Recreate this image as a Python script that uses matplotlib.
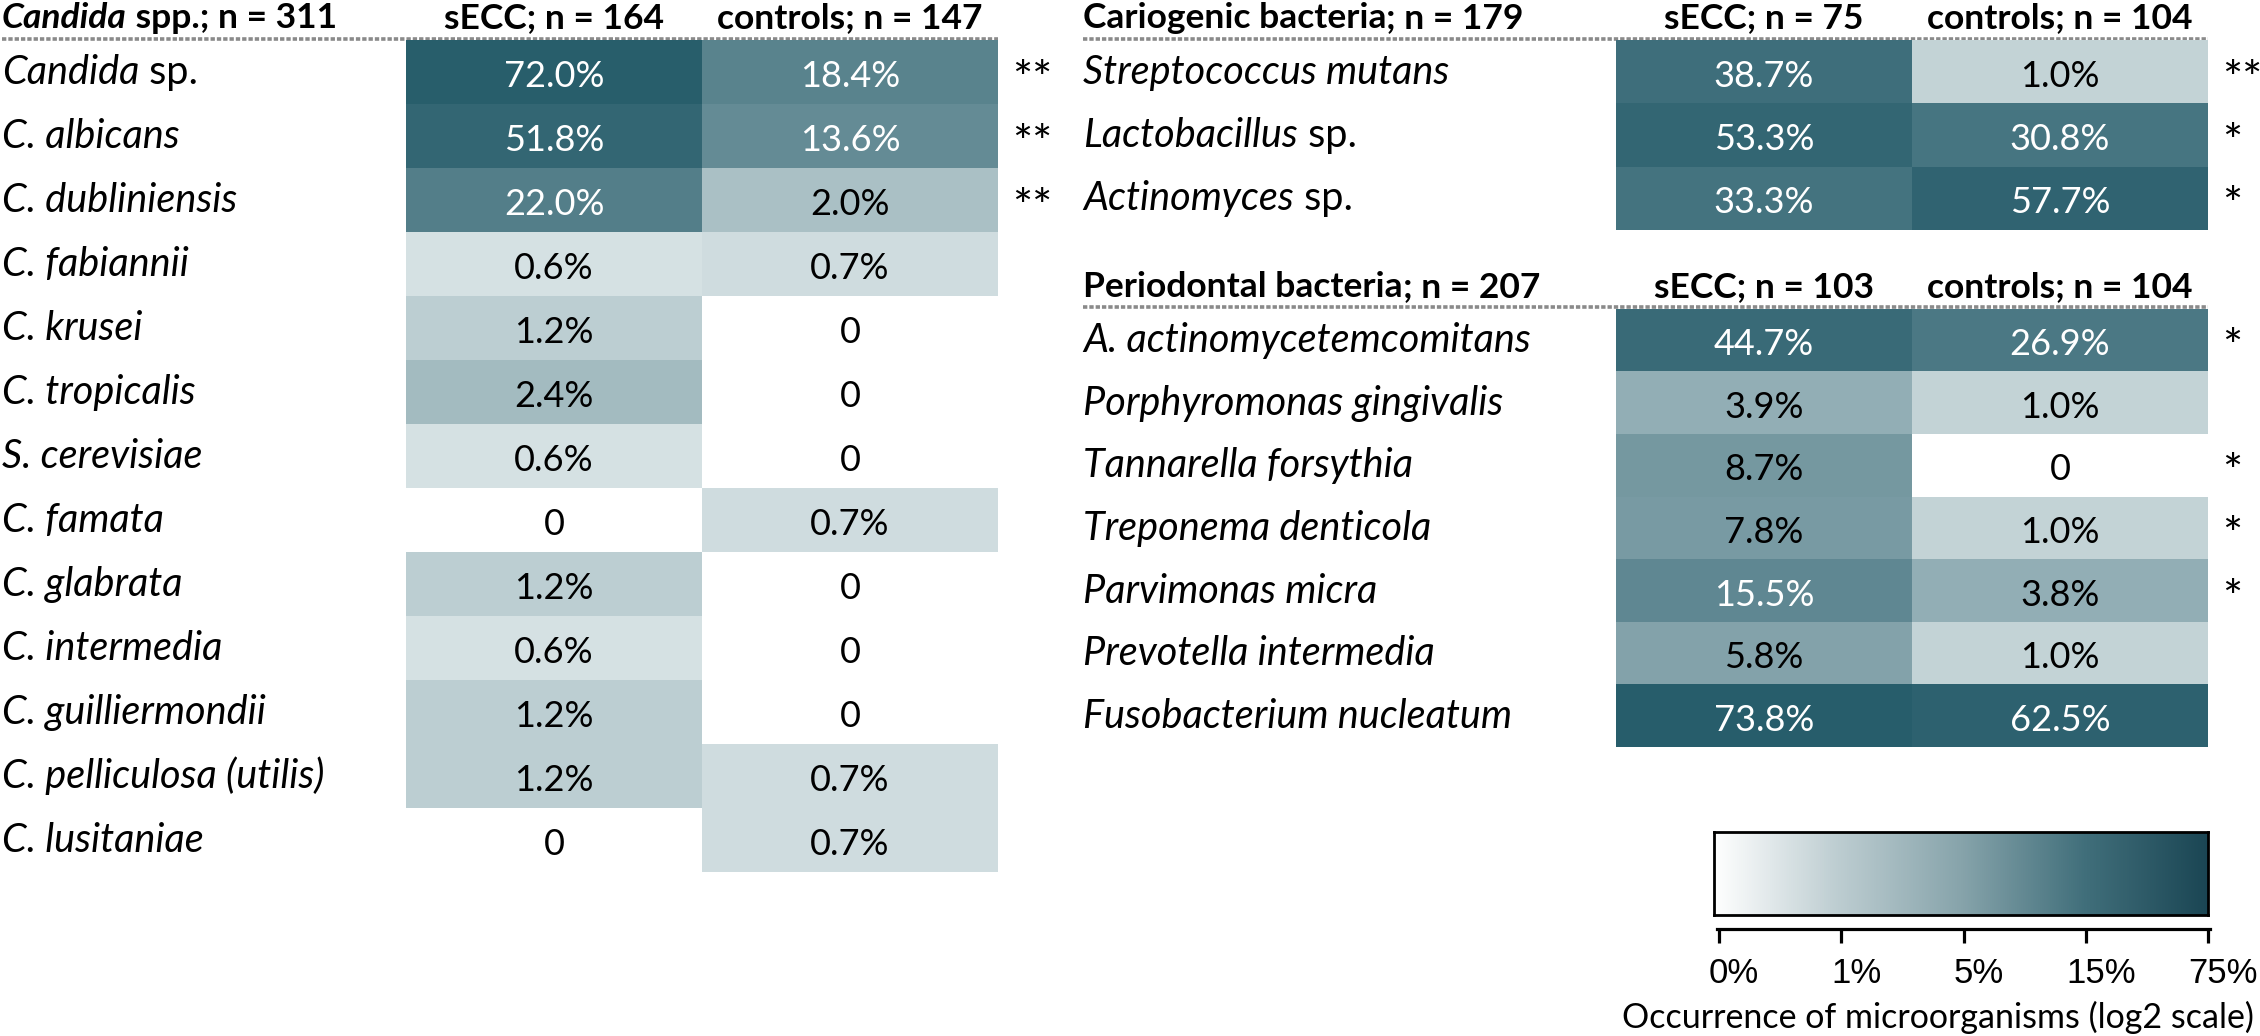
import numpy as np
import matplotlib
matplotlib.use("Agg")
import matplotlib.pyplot as plt
from matplotlib.colors import LinearSegmentedColormap, LogNorm
from matplotlib.transforms import blended_transform_factory, offset_copy

# ---- data ----
candida_labels = [("Candida", " sp."), ("C. albicans", ""), ("C. dubliniensis", ""),
                  ("C. fabiannii", ""), ("C. krusei", ""), ("C. tropicalis", ""),
                  ("S. cerevisiae", ""), ("C. famata", ""), ("C. glabrata", ""),
                  ("C. intermedia", ""), ("C. guilliermondii", ""),
                  ("C. pelliculosa (utilis)", ""), ("C. lusitaniae", "")]
candida_secc = [72.0, 51.8, 22.0, 0.6, 1.2, 2.4, 0.6, 0, 1.2, 0.6, 1.2, 1.2, 0]
candida_ctrl = [18.4, 13.6, 2.0, 0.7, 0, 0, 0, 0.7, 0, 0, 0, 0.7, 0.7]
candida_sig = ["**", "**", "**", "", "", "", "", "", "", "", "", "", ""]

cario_labels = [("Streptococcus mutans", ""), ("Lactobacillus", " sp."), ("Actinomyces", " sp.")]
cario_secc = [38.7, 53.3, 33.3]
cario_ctrl = [1.0, 30.8, 57.7]
cario_sig = ["**", "*", "*"]

perio_labels = [("A. actinomycetemcomitans", ""), ("Porphyromonas gingivalis", ""),
                ("Tannarella forsythia", ""), ("Treponema denticola", ""),
                ("Parvimonas micra", ""), ("Prevotella intermedia", ""),
                ("Fusobacterium nucleatum", "")]
perio_secc = [44.7, 3.9, 8.7, 7.8, 15.5, 5.8, 73.8]
perio_ctrl = [26.9, 1.0, 0, 1.0, 3.8, 1.0, 62.5]
perio_sig = ["*", "", "*", "*", "*", "", ""]

cbar_ticks = ["0%", "1%", "5%", "15%", "75%"]
cbar_label = "Occurrence of microorganisms (log2 scale)"

# ---- figure ----
W, H = 2260, 1036
plt.rcParams["font.family"] = ["Lato", "DejaVu Sans"]
fig = plt.figure(figsize=(W / 100, H / 100), dpi=100)
base = fig.add_axes([0, 0, 1, 1])
base.set_xlim(0, W)
base.set_ylim(H, 0)
base.axis("off")

FS = 26      # cell values
LFS = 28.5   # row labels
HFS = 25.5   # headers
SFS = 34     # significance stars
COLW = 296

cell_cmap = LinearSegmentedColormap.from_list("cells", ["#dce6e8", "#275d6b"])
cell_cmap.set_bad("white")
norm = LogNorm(vmin=0.5, vmax=75)


def px_axes(x0, y0, x1, y1):
    return fig.add_axes([x0 / W, 1 - y1 / H, (x1 - x0) / W, (y1 - y0) / H])


def two_part(ax, x, y, first, rest, transform, **kw):
    t = ax.text(x, y, first, transform=transform, style="italic", va="baseline", **kw)
    if rest:
        ax.annotate(rest, xy=(1, 0), xycoords=t, va="bottom", ha="left", **kw)


def table(title, n_all, labels, secc, ctrl, sig, n_secc, n_ctrl,
          lab_x, x0, head_base, line_y, y0, y1):
    ax = px_axes(x0, y0, x0 + 2 * COLW, y1)
    vals = np.column_stack([secc, ctrl])
    ax.imshow(np.ma.masked_less_equal(vals, 0), cmap=cell_cmap, norm=norm,
              aspect="auto", interpolation="nearest")
    ax.axis("off")
    n = len(labels)
    ax.set_xlim(-0.5, 1.5)
    ax.set_ylim(n - 0.5, -0.5)
    cell_tr = offset_copy(ax.transData, fig=fig, y=-15, units="dots")
    tr = blended_transform_factory(base.transData, ax.transData)
    lab_tr = offset_copy(tr, fig=fig, y=-12, units="dots")
    star_tr = offset_copy(tr, fig=fig, y=-22, units="dots")
    for i in range(n):
        for j in range(2):
            v = vals[i, j]
            ax.text(j, i, "0" if v == 0 else f"{v:.1f}%", transform=cell_tr,
                    ha="center", va="baseline", fontsize=FS,
                    color="white" if v >= 10 else "black")
        two_part(ax, lab_x, i, labels[i][0], labels[i][1], lab_tr, fontsize=LFS)
        if sig[i]:
            ax.text(x0 + 2 * COLW + 14, i, sig[i], transform=star_tr, ha="left",
                    va="baseline", fontsize=SFS)
    # headers
    t = base.text(lab_x, head_base, title[0], fontsize=HFS, weight="bold",
                  style=title[1], va="baseline")
    base.annotate(title[2] + f"; n = {n_all}", xy=(1, 0), xycoords=t,
                  va="bottom", ha="left", fontsize=HFS, weight="bold")
    base.text(x0 + COLW / 2, head_base, f"sECC; n = {n_secc}", ha="center",
              va="baseline", fontsize=HFS, weight="bold")
    base.text(x0 + 1.5 * COLW, head_base, f"controls; n = {n_ctrl}", ha="center",
              va="baseline", fontsize=HFS, weight="bold")
    base.plot([lab_x, x0 + 2 * COLW], [line_y, line_y], color="#8a8a8a", lw=2.6,
              linestyle=(0, (1.2, 0.55)), solid_capstyle="butt")


table(("Candida", "italic", " spp."), 311, candida_labels, candida_secc, candida_ctrl,
      candida_sig, 164, 147, 2, 406, 28, 38.5, 40, 872)
table(("Cariogenic bacteria", "normal", ""), 179, cario_labels, cario_secc, cario_ctrl,
      cario_sig, 75, 104, 1083, 1616, 28, 38.5, 40, 230)
table(("Periodontal bacteria", "normal", ""), 207, perio_labels, perio_secc, perio_ctrl,
      perio_sig, 103, 104, 1083, 1616, 297, 306.5, 309, 747)

# ---- colour scale legend ----
bar_cmap = LinearSegmentedColormap.from_list(
    "bar", [(0, "#ffffff"), (0.25, "#bdcdd1"), (0.5, "#87a4ab"),
            (0.75, "#416f7b"), (1.0, "#1b4654")])
cax = px_axes(1714, 832, 2208, 915)
cax.imshow(np.linspace(0, 1, 512)[None, :], cmap=bar_cmap, aspect="auto",
           extent=[0, 1, 0, 1])
cax.set_xticks([])
cax.set_yticks([])
for s in cax.spines.values():
    s.set_linewidth(2.0)

tax = px_axes(1719, 928, 2208, 929)
tax.set_xlim(0, len(cbar_ticks) - 1)
tax.set_xticks(range(len(cbar_ticks)))
tax.set_xticklabels([])
tax.set_yticks([])
for k in ["left", "right", "top"]:
    tax.spines[k].set_visible(False)
tax.spines["bottom"].set_linewidth(2.3)
tax.spines["bottom"].set_bounds(-0.02, len(cbar_ticks) - 1 + 0.02)
tax.tick_params(axis="x", direction="out", length=10, width=2.3)
tax.patch.set_alpha(0)
tick_tr = offset_copy(blended_transform_factory(tax.transData, base.transData),
                      fig=fig, x=15, units="dots")
for i, lab in enumerate(cbar_ticks):
    base.text(i, 983, lab, transform=tick_tr, ha="center", va="baseline",
              family=["Liberation Sans"], fontsize=25)
base.text(2254, 1028, cbar_label, ha="right", va="baseline", fontsize=24.5)

fig.savefig("out.png", dpi=100)
